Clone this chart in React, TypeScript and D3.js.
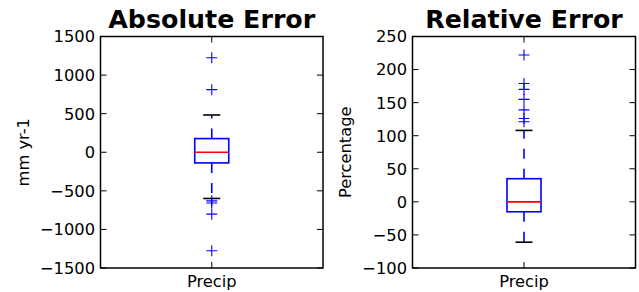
import React from "react";
import * as d3 from "d3";

// ---- Data ----
const categories = ["Precip"];

// Absolute Error panel (mm yr-1)
const absTitle = "Absolute Error";
const absYLabel = "mm yr-1";
const absDomain = [-1500, 1500];
const absTicks = [-1500, -1000, -500, 0, 500, 1000, 1500];
const absStats = { whislo: -599, q1: -138, med: 0, q3: 177, whishi: 483 };
const absFliers = [1225, 811, -630, -658, -802, -1277];

// Relative Error panel (Percentage)
const relTitle = "Relative Error";
const relYLabel = "Percentage";
const relDomain = [-100, 250];
const relTicks = [-100, -50, 0, 50, 100, 150, 200, 250];
const relStats = { whislo: -61, q1: -15, med: 0, q3: 35, whishi: 108 };
const relFliers = [222, 179, 170, 155, 139, 126, 121];

const W = 639;
const H = 292;
const TOP = 36.5;
const BOTTOM = 268;
const FONT = "'DejaVu Sans', sans-serif";

const fmt = (v: number) => (v < 0 ? "\u2212" + Math.abs(v) : String(v));

type Stats = { whislo: number; q1: number; med: number; q3: number; whishi: number };

function Panel(props: {
  x0: number;
  x1: number;
  title: string;
  ylabel: string;
  ylabelX: number;
  domain: number[];
  ticks: number[];
  stats: Stats;
  fliers: number[];
}) {
  const { x0, x1, title, ylabel, ylabelX, domain, ticks, stats, fliers } = props;
  const y = d3.scaleLinear().domain(domain).range([BOTTOM, TOP]);
  const x = d3.scalePoint().domain(categories).range([x0, x1]).padding(0.5);
  const cx = x(categories[0]) as number;
  const boxW = 34;
  const capW = 17;
  const tickLen = 6;
  const blue = "#0000ff";
  const sw = 1.6;
  const plus = 5.5;
  return (
    <g>
      <text x={(x0 + x1) / 2} y={27.5} textAnchor="middle" fontFamily={FONT} fontWeight="bold" fontSize={25.3}>
        {title}
      </text>
      <text
        transform={`translate(${ylabelX},${(TOP + BOTTOM) / 2}) rotate(-90)`}
        textAnchor="middle"
        fontFamily={FONT}
        fontSize={16.3}
      >
        {ylabel}
      </text>
      {/* whiskers */}
      <line x1={cx} x2={cx} y1={y(stats.q3)} y2={y(stats.whishi)} stroke={blue} strokeWidth={sw} strokeDasharray="10,10" />
      <line x1={cx} x2={cx} y1={y(stats.q1)} y2={y(stats.whislo)} stroke={blue} strokeWidth={sw} strokeDasharray="10,10" />
      {/* caps */}
      <line x1={cx - capW / 2} x2={cx + capW / 2} y1={y(stats.whishi)} y2={y(stats.whishi)} stroke="#000" strokeWidth={sw} />
      <line x1={cx - capW / 2} x2={cx + capW / 2} y1={y(stats.whislo)} y2={y(stats.whislo)} stroke="#000" strokeWidth={sw} />
      {/* box */}
      <rect
        x={cx - boxW / 2}
        y={y(stats.q3)}
        width={boxW}
        height={y(stats.q1) - y(stats.q3)}
        fill="none"
        stroke={blue}
        strokeWidth={sw}
      />
      <line x1={cx - boxW / 2} x2={cx + boxW / 2} y1={y(stats.med)} y2={y(stats.med)} stroke="#ff0000" strokeWidth={sw} />
      {/* fliers */}
      {fliers.map((f, i) => (
        <path
          key={i}
          d={`M${cx - plus},${y(f)}H${cx + plus}M${cx},${y(f) - plus}V${y(f) + plus}`}
          stroke={blue}
          strokeWidth={1.1}
          fill="none"
        />
      ))}
      {/* frame */}
      <rect x={x0} y={TOP} width={x1 - x0} height={BOTTOM - TOP} fill="none" stroke="#000" strokeWidth={1.5} />
      {/* y ticks */}
      {ticks.map((t) => (
        <g key={t}>
          <line x1={x0} x2={x0 + tickLen} y1={y(t)} y2={y(t)} stroke="#000" strokeWidth={1} />
          <line x1={x1} x2={x1 - tickLen} y1={y(t)} y2={y(t)} stroke="#000" strokeWidth={1} />
          <text x={x0 - 5.5} y={y(t)} dy="0.36em" textAnchor="end" fontFamily={FONT} fontSize={16.3}>
            {fmt(t)}
          </text>
        </g>
      ))}
      {/* x ticks */}
      {categories.map((c) => (
        <g key={c}>
          <line x1={x(c)} x2={x(c)} y1={BOTTOM} y2={BOTTOM - tickLen} stroke="#000" strokeWidth={1} />
          <line x1={x(c)} x2={x(c)} y1={TOP} y2={TOP + tickLen} stroke="#000" strokeWidth={1} />
          <text x={x(c)} y={287} textAnchor="middle" fontFamily={FONT} fontSize={16.3}>
            {c}
          </text>
        </g>
      ))}
    </g>
  );
}

export default function App() {
  return (
    <div style={{ position: "fixed", left: 0, top: 0, width: W, height: H, background: "#fff" }}>
      <svg width={W} height={H} style={{ display: "block" }}>
        <rect width={W} height={H} fill="#fff" />
        <Panel
          x0={100.5}
          x1={323}
          title={absTitle}
          ylabel={absYLabel}
          ylabelX={29}
          domain={absDomain}
          ticks={absTicks}
          stats={absStats}
          fliers={absFliers}
        />
        <Panel
          x0={412.5}
          x1={635.5}
          title={relTitle}
          ylabel={relYLabel}
          ylabelX={351}
          domain={relDomain}
          ticks={relTicks}
          stats={relStats}
          fliers={relFliers}
        />
      </svg>
    </div>
  );
}
